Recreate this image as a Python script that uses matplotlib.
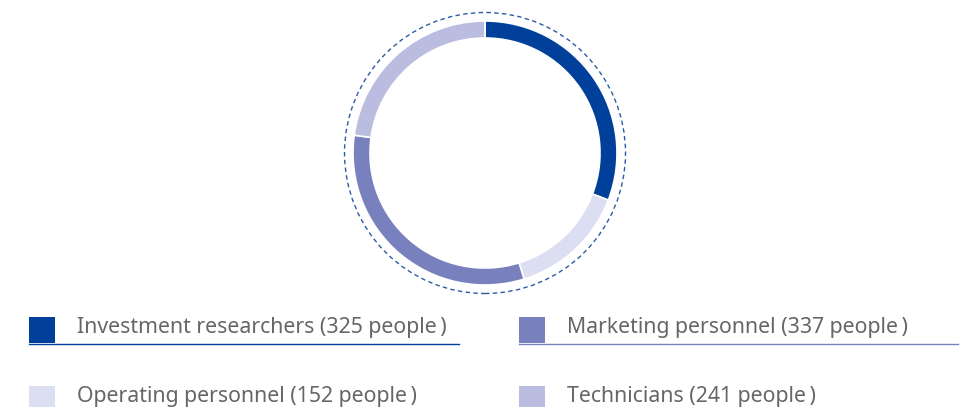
import matplotlib
matplotlib.use("Agg")
import matplotlib.pyplot as plt
from matplotlib.patches import Circle, Rectangle
from matplotlib.lines import Line2D

labels = ["Investment researchers", "Operating personnel", "Marketing personnel", "Technicians"]
counts = [325, 152, 337, 241]
colors = ["#00409a", "#dcdef1", "#7880bd", "#babde0"]

# legend layout: two columns, investment/marketing on top row
legend_order = [0, 2, 1, 3]

W, H = 963, 407
fig = plt.figure(figsize=(W / 100, H / 100), dpi=100)
ax = fig.add_axes([0, 0, 1, 1])

cx, cy = 485, H - 153
ax.pie(counts, colors=colors, center=(cx, cy), radius=132, startangle=90,
       counterclock=False,
       wedgeprops=dict(width=17, edgecolor="white", linewidth=1.2))

# dashed outer ring
ax.add_patch(Circle((cx, cy), 140.5, fill=False, edgecolor="#2c5ba6",
                    linewidth=1.0, linestyle=(0, (3.2, 2.4))))

ax.set_xlim(0, W)
ax.set_ylim(0, H)
ax.set_aspect("auto")
ax.axis("off")

col_x = [29, 519]
line_end = [459, 958]
row_top = [317, 386]
for k, i in enumerate(legend_order):
    col, row = k % 2, k // 2
    x0 = col_x[col]
    top = row_top[row]
    ax.add_patch(Rectangle((x0, H - top - 26), 26, 26, color=colors[i], lw=0))
    ax.add_line(Line2D([x0, line_end[col]], [H - top - 26.5, H - top - 26.5],
                       color=colors[i], linewidth=1.0))
    ax.text(x0 + 48, H - top - 16, f"{labels[i]} ({counts[i]} people\u2009)",
            fontsize=15.3, color="#666666", va="baseline", ha="left",
            family=["Noto Sans", "DejaVu Sans"])

fig.savefig("out.png", dpi=100)
